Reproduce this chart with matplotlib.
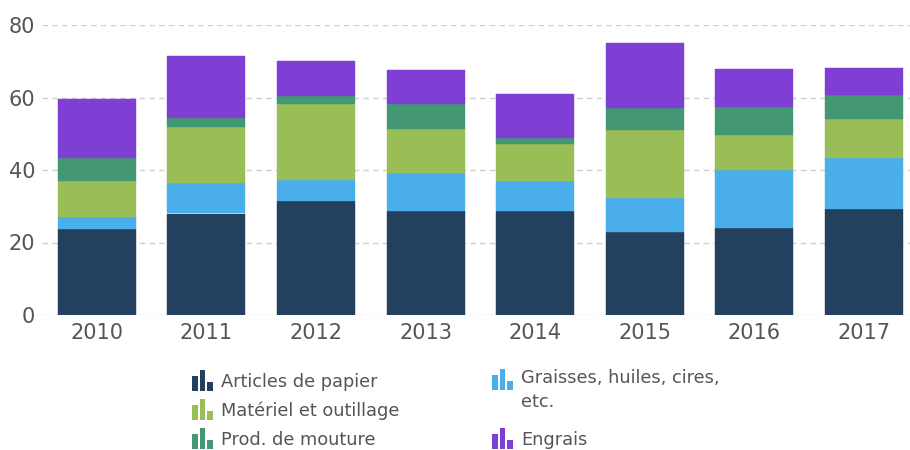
import matplotlib
matplotlib.use("Agg")
import matplotlib.pyplot as plt
from matplotlib.patches import Rectangle
import numpy as np

years = ["2010", "2011", "2012", "2013", "2014", "2015", "2016", "2017"]
papier = [23.6, 28.0, 31.4, 28.6, 28.7, 22.8, 23.9, 29.2]
graisses = [3.3, 8.3, 5.8, 10.5, 8.2, 9.5, 16.1, 14.1]
materiel = [10.0, 15.5, 20.9, 12.1, 10.2, 18.7, 9.6, 10.7]
mouture = [6.3, 2.5, 2.4, 6.9, 1.7, 6.1, 7.7, 6.6]
engrais = [16.3, 17.1, 9.5, 9.4, 12.1, 17.9, 10.5, 7.5]

series = [
    ("Articles de papier", papier, "#24405f"),
    ("Graisses, huiles, cires,\netc.", graisses, "#4aaeea"),
    ("Matériel et outillage", materiel, "#99bd57"),
    ("Prod. de mouture", mouture, "#439773"),
    ("Engrais", engrais, "#7f3fd5"),
]

W, H = 910, 450
fig = plt.figure(figsize=(W / 100, H / 100), dpi=100)
ax = fig.add_axes([42 / W, 1 - 315 / H, (W - 42) / W, 290 / H])

x = np.arange(len(years))
bottom = np.zeros(len(years))
for name, vals, col in series:
    ax.bar(x, vals, width=0.71, bottom=bottom, color=col, edgecolor=col,
           linewidth=0.3, zorder=3)
    bottom += np.array(vals)

ax.set_ylim(0, 80)
ax.set_xlim(-0.5, -0.5 + 868 / 109.6)
ax.set_yticks([0, 20, 40, 60, 80])
ax.set_xticks(x)
ax.set_xticklabels(years)
ax.grid(axis="y", color="#d0d0d0", linestyle=(0, (4, 3)), linewidth=1, zorder=0)
for s in ax.spines.values():
    s.set_visible(False)
ax.tick_params(axis="both", length=0, labelsize=15, colors="#555555")
ax.tick_params(axis="x", pad=6)
ax.tick_params(axis="y", pad=5)

def px(xp, yp):
    return xp / W, 1 - yp / H

def icon(x0, ybot, col):
    specs = [(0, 6, 15), (8, 5, 21), (15, 6, 9)]
    for dx, w, h in specs:
        fx, fy = px(x0 + dx, ybot)
        fig.add_artist(Rectangle((fx, fy), w / W, h / H, transform=fig.transFigure,
                                 color=col, lw=0))

legend_pos = [
    (0, 192, 391, 221, 382),
    (1, 492, 390, 521, 380),
    (2, 192, 420, 221, 411),
    (3, 192, 449, 221, 440),
    (4, 492, 449, 521, 440),
]
for idx, ix, iy, tx, ty in legend_pos:
    name, vals, col = series[idx]
    icon(ix, iy, col)
    fx, fy = px(tx, ty)
    if "\n" in name:
        fx, fy = px(tx, ty - 11)
        fig.text(fx, fy, name, fontsize=12.8, color="#555555", va="top", ha="left",
                 linespacing=1.4)
    else:
        fig.text(fx, fy, name, fontsize=12.8, color="#555555", va="center", ha="left")

fig.savefig("out.png", dpi=100)
